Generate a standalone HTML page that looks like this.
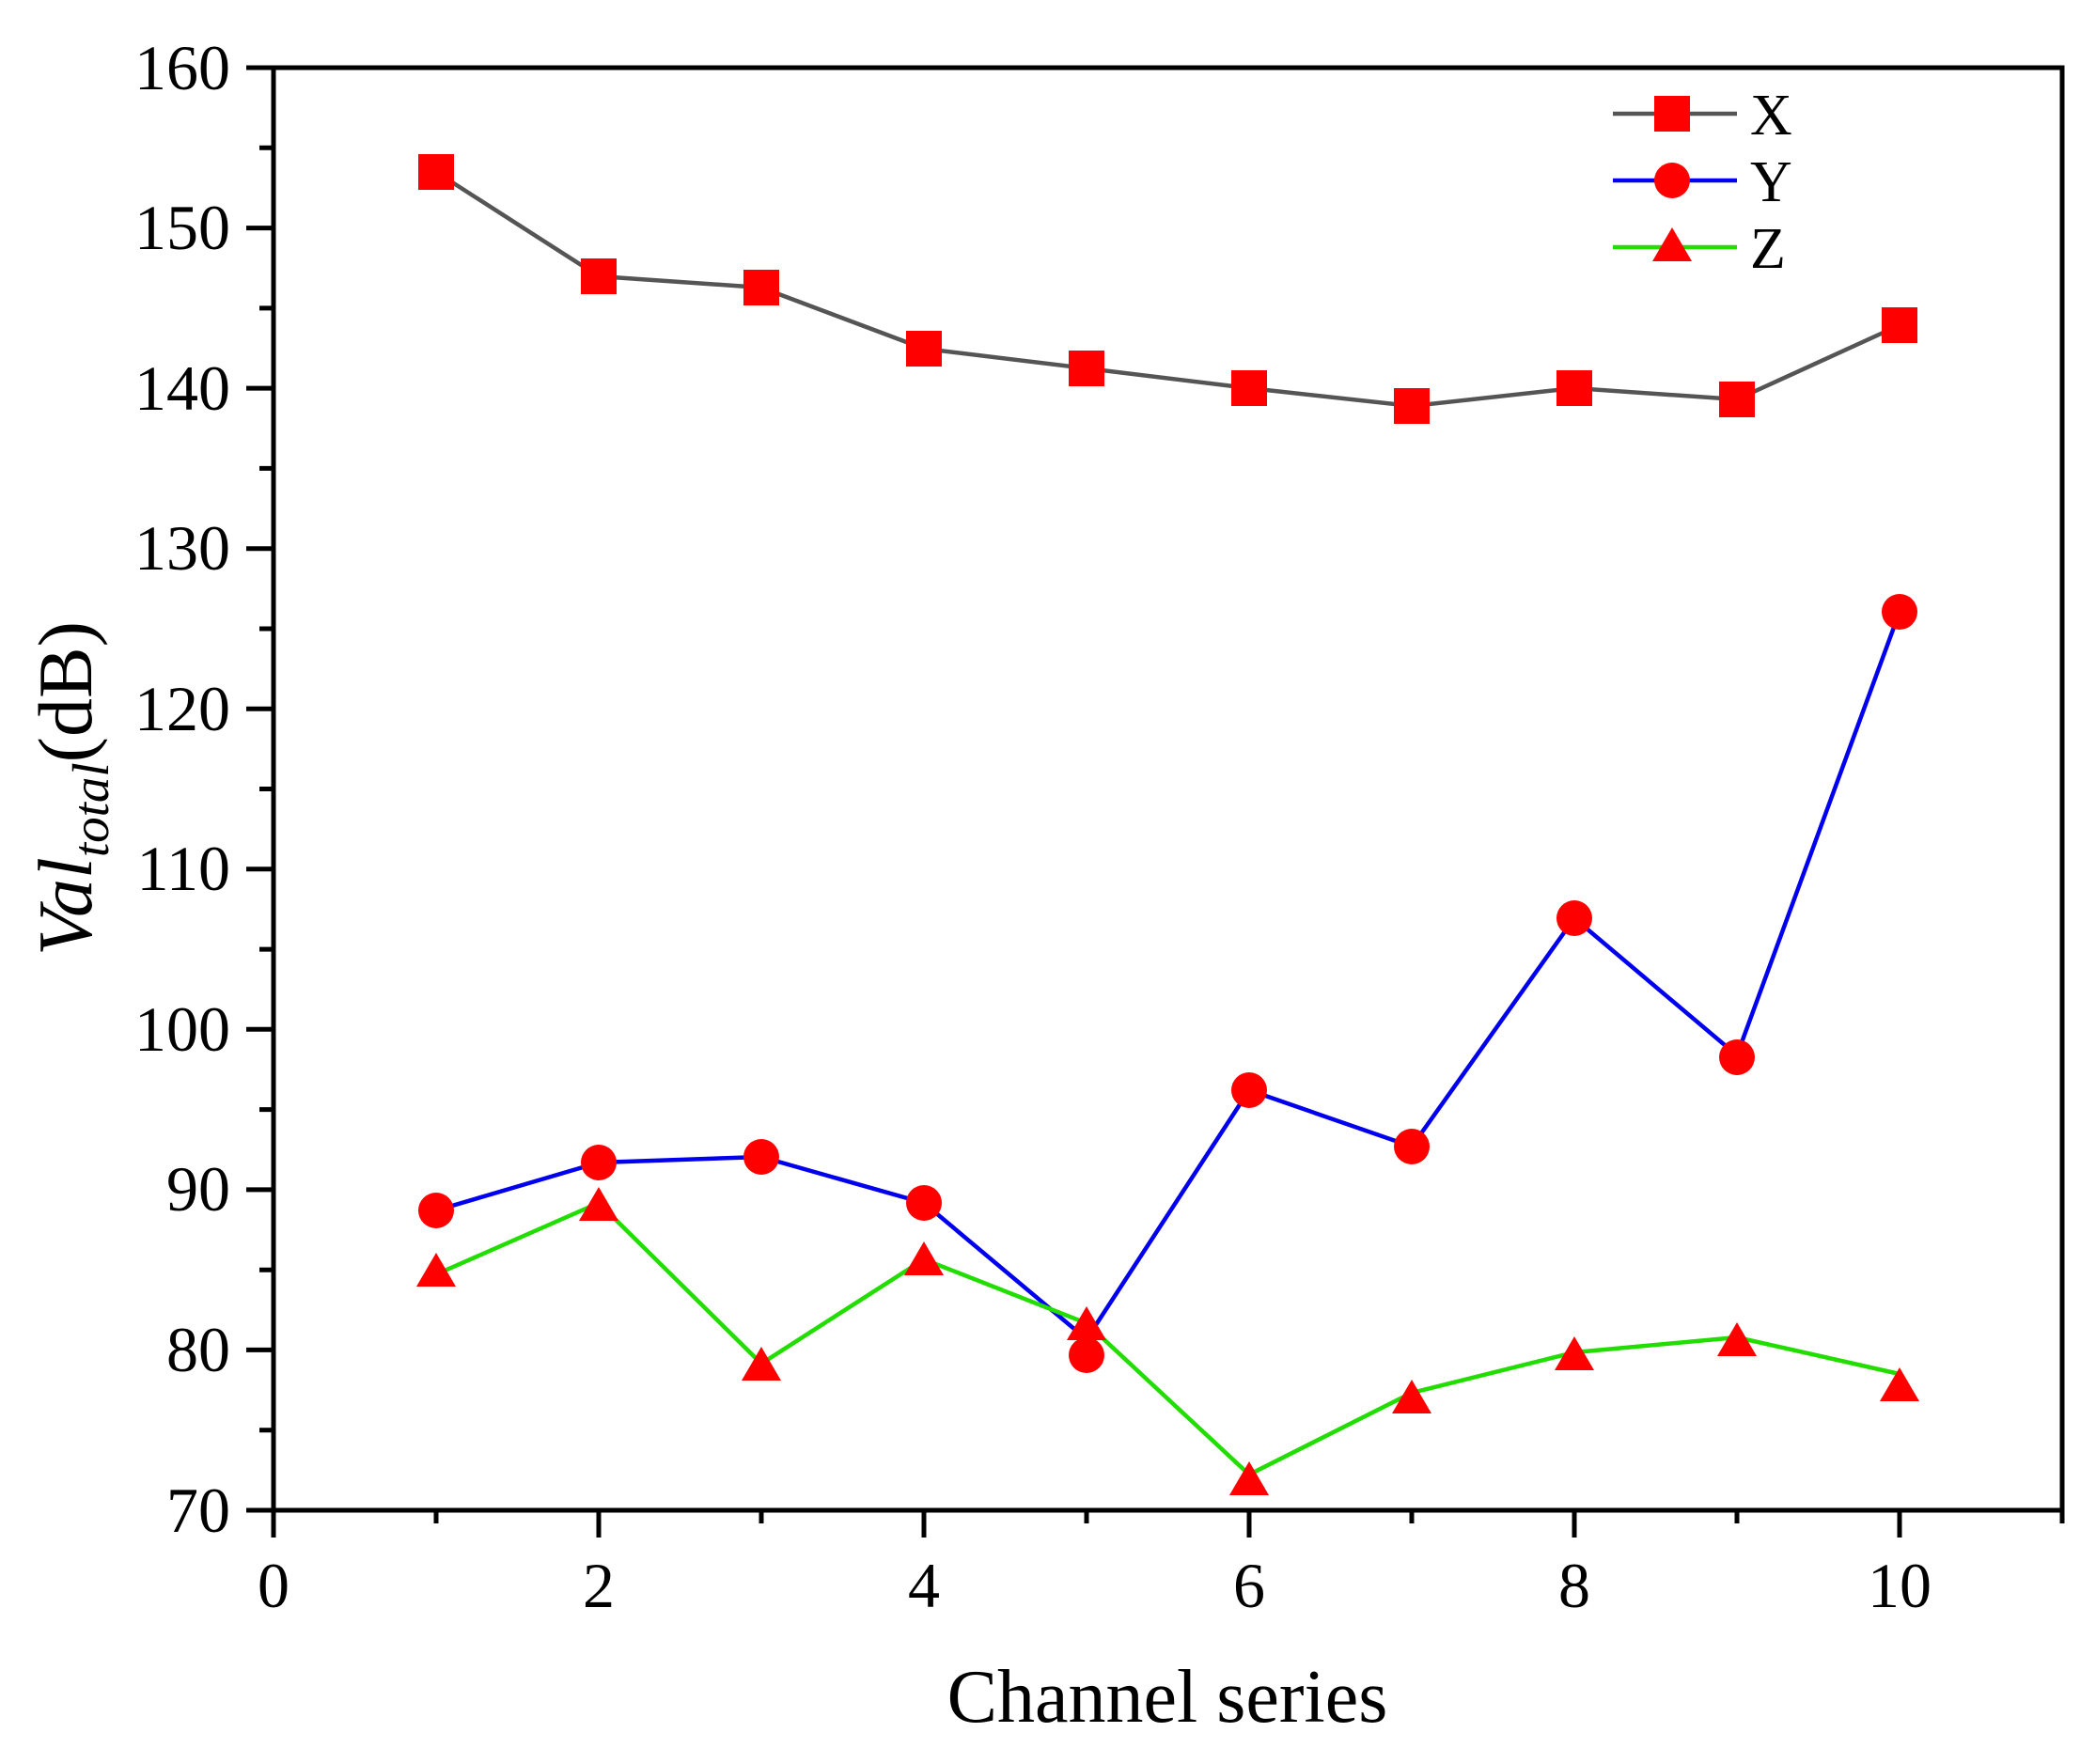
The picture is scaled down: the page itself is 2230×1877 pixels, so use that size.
<!DOCTYPE html>
<html><head><meta charset="utf-8"><style>body{margin:0;background:#fff}svg{display:block}</style></head><body>
<svg width="2230" height="1877" viewBox="0 0 2230 1877" xmlns="http://www.w3.org/2000/svg" font-family="'Liberation Serif',serif">
<rect width="2230" height="1877" fill="#fff"/>
<g stroke="#000" stroke-width="5" fill="none">
<rect x="291" y="72" width="1903" height="1535"/>
<path d="M262 72H291M262 242.6H291M262 413.1H291M262 583.7H291M262 754.2H291M262 924.8H291M262 1095.3H291M262 1265.9H291M262 1436.4H291M262 1607H291"/>
<path d="M276 157.3H291M276 327.9H291M276 498.4H291M276 669H291M276 839.5H291M276 1010.1H291M276 1180.6H291M276 1351.2H291M276 1521.7H291"/>
<path d="M291 1607V1636M637 1607V1636M983 1607V1636M1329 1607V1636M1675 1607V1636M2021 1607V1636"/>
<path d="M464 1607V1621M810 1607V1621M1156 1607V1621M1502 1607V1621M1848 1607V1621M2194 1607V1621"/>
</g>
<g font-size="68" fill="#000" text-anchor="end">
<text x="245" y="95">160</text><text x="245" y="265">150</text><text x="245" y="436">140</text><text x="245" y="606">130</text><text x="245" y="777">120</text><text x="245" y="947">110</text><text x="245" y="1118">100</text><text x="245" y="1288">90</text><text x="245" y="1459">80</text><text x="245" y="1630">70</text>
</g>
<g font-size="68" fill="#000" text-anchor="middle">
<text x="291" y="1710">0</text><text x="637" y="1710">2</text><text x="983" y="1710">4</text><text x="1329" y="1710">6</text><text x="1675" y="1710">8</text><text x="2021" y="1710">10</text>
<text x="1242" y="1832" font-size="80">Channel series</text>
</g>
<text transform="translate(97,839) rotate(-90)" text-anchor="middle" font-size="82" fill="#000"><tspan font-style="italic">Val</tspan><tspan font-style="italic" font-size="55" dy="18">total</tspan><tspan dy="-18">(dB)</tspan></text>
<polyline fill="none" stroke="#555" stroke-width="4.5" points="464,183 637,294 810,306 983,371 1156,392 1329,413 1502,432 1675,413 1848,425 2021,346"/>
<polyline fill="none" stroke="#0000ee" stroke-width="4.5" points="464,1288 637,1237 810,1231 983,1280 1156,1425 1329,1160 1502,1220 1675,977 1848,1123 2021,651"/>
<polyline fill="none" stroke="#22dd00" stroke-width="4.5" points="464,1356 637,1280 810,1451 983,1340 1156,1408 1329,1569 1502,1482 1675,1439 1848,1423 2021,1462"/>
<g fill="#f00">
<rect x="445" y="164" width="38" height="38"/><rect x="618" y="275" width="38" height="38"/><rect x="791" y="287" width="38" height="38"/><rect x="964" y="352" width="38" height="38"/><rect x="1137" y="373" width="38" height="38"/><rect x="1310" y="394" width="38" height="38"/><rect x="1483" y="413" width="38" height="38"/><rect x="1656" y="394" width="38" height="38"/><rect x="1829" y="406" width="38" height="38"/><rect x="2002" y="327" width="38" height="38"/>
<circle cx="464" cy="1288" r="19"/><circle cx="637" cy="1237" r="19"/><circle cx="810" cy="1231" r="19"/><circle cx="983" cy="1280" r="19"/><circle cx="1156" cy="1442" r="19"/><circle cx="1329" cy="1160" r="19"/><circle cx="1502" cy="1220" r="19"/><circle cx="1675" cy="977" r="19"/><circle cx="1848" cy="1125" r="19"/><circle cx="2021" cy="651" r="19"/>
<path d="M464 1333l21 36h-42z"/><path d="M637 1263l21 36h-42z"/><path d="M810 1433l21 36h-42z"/><path d="M983 1321l21 36h-42z"/><path d="M1156 1390l21 36h-42z"/><path d="M1329 1555l21 36h-42z"/><path d="M1502 1468l21 36h-42z"/><path d="M1675 1422l21 36h-42z"/><path d="M1848 1407l21 36h-42z"/><path d="M2021 1455l21 36h-42z"/>
</g>
<path d="M1716 121H1848" stroke="#555" stroke-width="4.5"/>
<path d="M1716 192H1848" stroke="#0000ee" stroke-width="4.5"/>
<path d="M1716 263H1848" stroke="#22dd00" stroke-width="4.5"/>
<rect x="1760" y="102" width="38" height="38" fill="#f00"/>
<circle cx="1779" cy="192" r="19" fill="#f00"/>
<path d="M1779 242l21 36h-42z" fill="#f00"/>
<g font-size="62" fill="#000">
<text x="1862" y="143">X</text><text x="1862" y="214">Y</text><text x="1862" y="285">Z</text>
</g>
</svg>
</body></html>
